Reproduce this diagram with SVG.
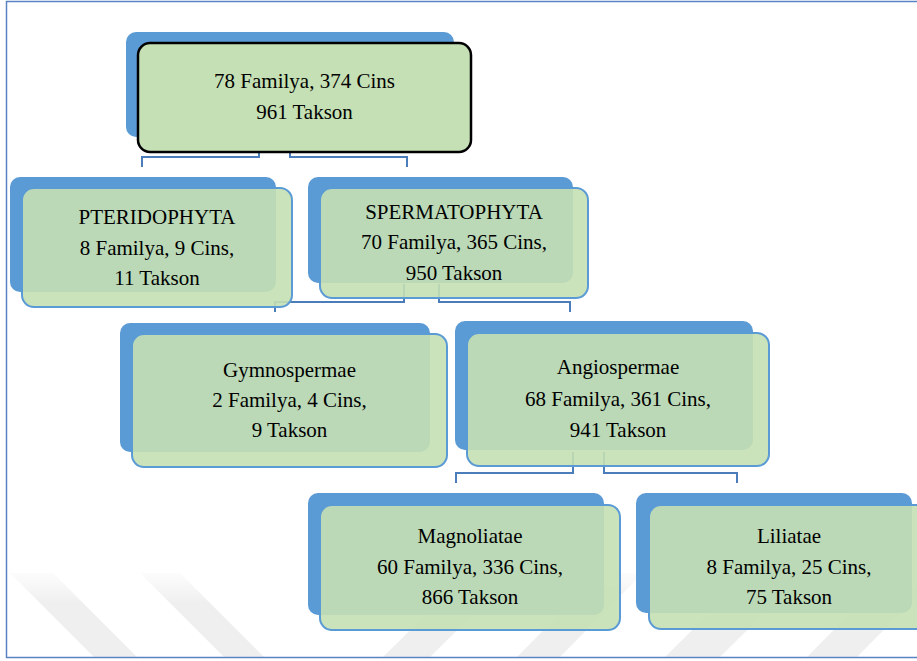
<svg xmlns="http://www.w3.org/2000/svg" width="917" height="661" viewBox="0 0 917 661">
  <style>
    .back { fill: #5B9BD5; }
    .front { fill: #C5E0B4; fill-opacity: 0.9; stroke: #5B9BD5; stroke-width: 2; }
    .root { fill: #C5E0B4; stroke: #000000; stroke-width: 2.5; }
    .lbl { font-family: 'Liberation Serif', 'DejaVu Serif', serif; font-size: 21px; fill: #000000; text-anchor: middle; }
    .conn { fill: none; stroke: #4A7DBA; stroke-width: 2; }
    .wm { fill: url(#wmfade); }
    .frame { fill: none; stroke: #5A83C4; stroke-width: 1.5; }
  </style>
  <defs>
    <linearGradient id="wmfade" x1="0" y1="573" x2="0" y2="657" gradientUnits="userSpaceOnUse">
      <stop offset="0" stop-color="#F4F4F4" stop-opacity="0.3"/>
      <stop offset="0.35" stop-color="#EFEFEF" stop-opacity="1"/>
      <stop offset="1" stop-color="#EFEFEF" stop-opacity="1"/>
    </linearGradient>
  </defs>
  <rect x="0" y="0" width="917" height="661" fill="#FFFFFF"/>
  <g id="watermark">
    <polygon class="wm" points="10,573 53,573 137,657 94,657"/>
    <polygon class="wm" points="140,573 180,573 264,657 224,657"/>
    <polygon class="wm" points="468,573 515,573 430,657 383,657"/>
    <polygon class="wm" points="600,573 643,573 560,657 517,657"/>
    <polygon class="wm" points="750,573 805,573 720,657 665,657"/>
    <polygon class="wm" points="890,573 940,573 857,657 807,657"/>
  </g>
  <rect class="frame" x="6.5" y="1.5" width="920" height="656"/>
  <g id="connectors">
    <path class="conn" d="M259,152 V157 H142 V167"/>
    <path class="conn" d="M290,152 V157 H407 V167"/>
    <path class="conn" d="M404,284 V302 H275 V312"/>
    <path class="conn" d="M439,284 V302 H570 V312"/>
    <path class="conn" d="M573,452 V473 H456 V483"/>
    <path class="conn" d="M604,452 V473 H737 V483"/>
  </g>
  <g id="node-root">
    <rect class="back" x="126" y="32" width="328" height="105" rx="10"/>
    <rect class="root" x="138" y="43" width="333" height="109" rx="12"/>
    <text class="lbl" x="304.5" y="88" font-family="Liberation Serif, serif">78 Familya, 374 Cins</text>
    <text class="lbl" x="304.5" y="119" font-family="Liberation Serif, serif">961 Takson</text>
  </g>
  <g id="node-pteridophyta">
    <rect class="back" x="10" y="177" width="266" height="115" rx="10"/>
    <rect class="front" x="22" y="188" width="270" height="119" rx="12"/>
    <text class="lbl" x="157" y="224">PTERIDOPHYTA</text>
    <text class="lbl" x="157" y="255">8 Familya, 9 Cins,</text>
    <text class="lbl" x="157" y="285">11 Takson</text>
  </g>
  <g id="node-spermatophyta">
    <rect class="back" x="308" y="177" width="265" height="106" rx="10"/>
    <rect class="front" x="320" y="188" width="268" height="110" rx="12"/>
    <text class="lbl" x="454" y="219">SPERMATOPHYTA</text>
    <text class="lbl" x="454" y="249">70 Familya, 365 Cins,</text>
    <text class="lbl" x="454" y="280">950 Takson</text>
  </g>
  <g id="node-gymnospermae">
    <rect class="back" x="120" y="323" width="310" height="129" rx="10"/>
    <rect class="front" x="132" y="334" width="315" height="133" rx="12"/>
    <text class="lbl" x="289.5" y="377">Gymnospermae</text>
    <text class="lbl" x="289.5" y="407">2 Familya, 4 Cins,</text>
    <text class="lbl" x="289.5" y="437">9 Takson</text>
  </g>
  <g id="node-angiospermae">
    <rect class="back" x="455" y="321" width="298" height="129" rx="10"/>
    <rect class="front" x="467" y="333" width="302" height="133" rx="12"/>
    <text class="lbl" x="618" y="374">Angiospermae</text>
    <text class="lbl" x="618" y="406">68 Familya, 361 Cins,</text>
    <text class="lbl" x="618" y="437">941 Takson</text>
  </g>
  <g id="node-magnoliatae">
    <rect class="back" x="308" y="493" width="296" height="122" rx="10"/>
    <rect class="front" x="320" y="505" width="300" height="125" rx="12"/>
    <text class="lbl" x="470" y="543">Magnoliatae</text>
    <text class="lbl" x="470" y="574">60 Familya, 336 Cins,</text>
    <text class="lbl" x="470" y="604">866 Takson</text>
  </g>
  <g id="node-liliatae">
    <rect class="back" x="636" y="493" width="276" height="120" rx="10"/>
    <rect class="front" x="649" y="505" width="280" height="124" rx="12"/>
    <text class="lbl" x="789" y="543">Liliatae</text>
    <text class="lbl" x="789" y="574">8 Familya, 25 Cins,</text>
    <text class="lbl" x="789" y="604">75 Takson</text>
  </g>
</svg>
